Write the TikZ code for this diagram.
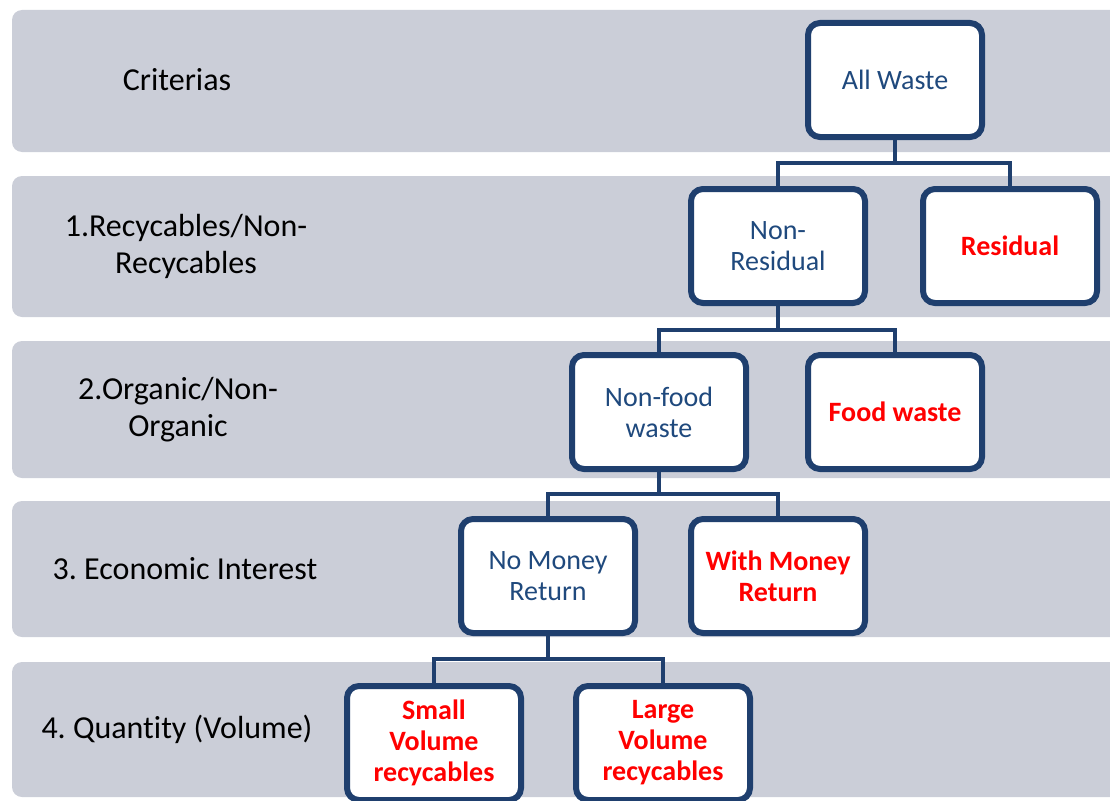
\documentclass[tikz,border=0pt]{standalone}
\usepackage{fontspec}
\usetikzlibrary{shadows}
\setmainfont{Carlito}[Ligatures={NoCommon}]
\frenchspacing
\definecolor{band}{HTML}{CBCED8}
\definecolor{edge}{HTML}{1F3F6E}
\definecolor{bluetext}{HTML}{1F497D}
\definecolor{redtext}{HTML}{FF0000}
\tikzset{
  bandbox/.style={fill=band, draw=none, rounded corners=10pt},
  crit/.style={align=center, font=\fontsize{32}{37}\selectfont, text=black},
  wbox/.style={draw=edge, line width=6pt, fill=white, rounded corners=12pt,
    minimum width=174pt, minimum height=114pt, align=center,
    inner sep=1pt, font=\fontsize{28}{31}\selectfont,
    drop shadow={opacity=0.25, shadow xshift=2pt, shadow yshift=-2pt}},
  bluebox/.style={wbox, text=bluetext},
  redbox/.style={wbox, text=redtext, font=\fontsize{28}{31}\selectfont\bfseries},
  conn/.style={draw=edge, line width=4pt}
}
\begin{document}
\begin{tikzpicture}[x=1pt,y=-1pt]
\useasboundingbox (0,0) rectangle (1110,800);
\begin{scope}
\clip (0,0) rectangle (1110,800);
% bands
\fill[bandbox] (12,10) rectangle (1130,152);
\fill[bandbox] (12,176) rectangle (1130,317);
\fill[bandbox] (12,341) rectangle (1130,478);
\fill[bandbox] (12,501) rectangle (1130,637);
\fill[bandbox] (12,662) rectangle (1130,797);
% criteria labels
\node[crit] (c0) at (177,80) {Criterias};
\node[crit] (c1) at (186,246) {1.Recycables/Non-\\Recycables};
\node[crit] (c2) at (178,410) {2.Organic/Non-\\Organic};
\node[crit] (c3) at (185,569) {3. Economic Interest};
\node[crit] (c4) at (177,729) {4. Quantity (Volume)};
% boxes
\node[bluebox] (all) at (895,80) {All Waste};
\node[bluebox] (nonres) at (778,246) {Non-\\Residual};
\node[redbox] (res) at (1010,246) {Residual};
\node[bluebox] (nonfood) at (659,412) {Non-food\\waste};
\node[redbox] (food) at (895,412) {Food waste};
\node[bluebox] (nomoney) at (548,576) {No Money\\Return};
\node[redbox] (withmoney) at (778,576) {With Money\\Return};
\node[redbox] (small) at (434,743) {Small\\Volume\\recycables};
\node[redbox] (large) at (663,743) {Large\\Volume\\recycables};
% connectors
\coordinate (j0) at (895,163);
\coordinate (j1) at (778,330);
\coordinate (j2) at (659,494);
\coordinate (j3) at (548,659);
\draw[conn] (all.south) -- (j0);
\draw[conn] (j0) -| (nonres.north);
\draw[conn] (j0) -| (res.north);
\draw[conn] (nonres.south) -- (j1);
\draw[conn] (j1) -| (nonfood.north);
\draw[conn] (j1) -| (food.north);
\draw[conn] (nonfood.south) -- (j2);
\draw[conn] (j2) -| (nomoney.north);
\draw[conn] (j2) -| (withmoney.north);
\draw[conn] (nomoney.south) -- (j3);
\draw[conn] (j3) -| (small.north);
\draw[conn] (j3) -| (large.north);
\end{scope}
\end{tikzpicture}
\end{document}
